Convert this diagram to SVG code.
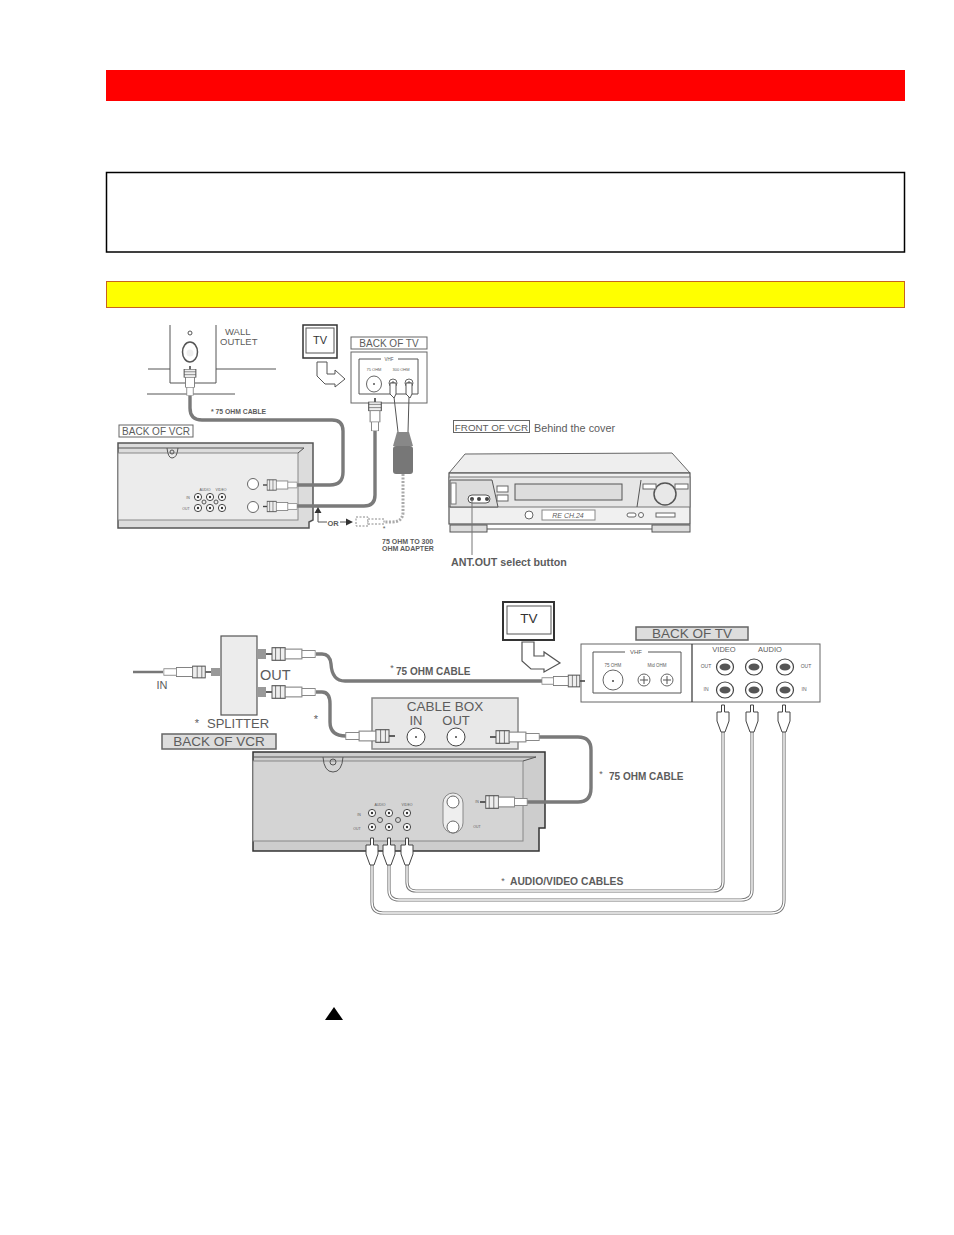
<svg xmlns="http://www.w3.org/2000/svg" width="954" height="1235" viewBox="0 0 954 1235">
<style>
text{font-family:"Liberation Sans",Arial,sans-serif;fill:#5c5c5c}
.l{stroke:#555;stroke-width:1;fill:none}
.w{stroke:#666;stroke-width:1;fill:#fff}
.g{stroke:#555;stroke-width:1;fill:#ddd}
.c{stroke:#7a7a7a;stroke-width:3.4;fill:none}
.rca{stroke:#777;stroke-width:3.2;fill:none}
.rcai{stroke:#fff;stroke-width:1.4;fill:none}
.dot{stroke:#aaa;stroke-width:3;stroke-dasharray:2 1.5;fill:none}
.b{font-weight:bold}
.m{text-anchor:middle}
</style>
<defs>
<g id="fc">
<line x1="0" y1="0" x2="5" y2="0" stroke="#444" stroke-width="1.2"/>
<rect x="5" y="-4.5" width="11" height="9" fill="#eee" stroke="#555" stroke-width=".8"/>
<line x1="8" y1="-4.5" x2="8" y2="4.5" stroke="#555" stroke-width=".6"/>
<line x1="12" y1="-4.500" x2="12" y2="4.500" stroke="#555" stroke-width=".6"/>
<rect x="16" y="-3.5" width="14" height="7" fill="#fff" stroke="#777" stroke-width=".7"/>
<rect x="30" y="-2.5" width="11" height="5" fill="#fff" stroke="#888" stroke-width=".7"/>
</g>
<g id="rp">
<path d="M-1.5 0H1.5V7H6V16L2 27H-2L-6 16V7H-1.5Z" fill="#fff" stroke="#444" stroke-width="1"/>
</g>
<g id="jack">
<ellipse rx="8.500" ry="8" fill="#fff" stroke="#444" stroke-width="1.200"/>
<ellipse rx="5.500" ry="3.500" fill="#555"/>
</g>
<g id="sj">
<circle r="3.600" fill="#fff" stroke="#444"/>
<circle r="1.200" fill="#333"/>
</g>
</defs>

<rect width="954" height="1235" fill="#fff"/>
<g id="red-bar"><rect x="106" y="70" width="799" height="31" fill="#ff0000"/></g>
<g id="note-box"><rect x="106.500" y="172.500" width="798" height="79.500" fill="#fff" stroke="#000" stroke-width="1.500"/></g>
<g id="yellow-bar"><rect x="106.500" y="281.500" width="798" height="26" fill="#ffff00" stroke="#c8641e" stroke-width="1"/></g>

<g id="wall-outlet">
<path class="l" d="M170 325V383H216V325M148 369H170M216 369H276M147 394H235"/>
<circle cx="190" cy="333" r="2" class="l"/>
<ellipse cx="190" cy="352" rx="7.500" ry="10" fill="none" stroke="#555" stroke-width="1.500"/>
<circle cx="190" cy="353" r="3.500" fill="#eee"/>
<text x="225" y="335" font-size="9.500">WALL</text>
<text x="220" y="345" font-size="9.500">OUTLET</text>
</g>

<g id="tv-icon-1">
<rect x="303" y="325" width="34" height="33" fill="#fff" stroke="#333" stroke-width="1.500"/>
<rect x="306" y="328" width="28" height="25" class="l"/>
<text x="320" y="344" class="m" font-size="11" style="fill:#333">TV</text>
<path d="M317 362H327V374H335V370L345 379L335 387V384H325L317 376Z" fill="#fff" stroke="#555"/>
</g>

<g id="back-of-tv-1">
<rect x="351" y="337" width="76" height="12" class="w"/>
<text x="389" y="347" class="m" font-size="10">BACK OF TV</text>
<rect x="351" y="352" width="76" height="51" class="w"/>
<path class="l" d="M381 359H359V394H418V359H398"/>
<text x="389" y="361" class="m" font-size="4.500">VHF</text>
<text x="374" y="371" class="m" font-size="4">75 OHM</text>
<text x="401" y="371" class="m" font-size="4">300 OHM</text>
<ellipse cx="374" cy="384" rx="7.500" ry="8" class="w"/>
<circle cx="374" cy="384" r="1" fill="#555"/>
<circle cx="393" cy="383" r="4" class="w"/>
<circle cx="409" cy="383" r="4" class="w"/>
<path class="l" d="M391 383H395M393 381V385M407 383H411M409 381V385"/>
</g>

<g id="back-of-vcr-1">
<rect x="119" y="425" width="74" height="12" class="w"/>
<text x="156" y="435" class="m" font-size="10">BACK OF VCR</text>
<path d="M118 443H313V520L309 522V528H118Z" fill="#dcdcdc" stroke="#555" stroke-width="1.500"/>
<rect x="118" y="453" width="180" height="67" fill="#ececec" stroke="#888"/>
<path class="l" d="M118 448H304L298 453M167 448Q168 458 172 458Q177 458 178 448"/>
<circle cx="172" cy="452" r="2" class="l"/>
<circle cx="253" cy="484" r="5.500" class="w"/>
<circle cx="253" cy="507" r="5.500" class="w"/>
<use href="#sj" x="198" y="497"/><use href="#sj" x="210" y="497"/><use href="#sj" x="222" y="497"/>
<use href="#sj" x="198" y="508"/><use href="#sj" x="210" y="508"/><use href="#sj" x="222" y="508"/>
<circle cx="204" cy="502" r="2" class="l"/><circle cx="216" cy="502" r="2" class="l"/>
<text x="205" y="491" class="m" font-size="3.500">AUDIO</text>
<text x="221" y="491" class="m" font-size="3.500">VIDEO</text>
<text x="188" y="498.500" class="m" font-size="3.500">IN</text>
<text x="186" y="510" class="m" font-size="3.500">OUT</text>
</g>

<g id="front-of-vcr">
<rect x="453.500" y="420.500" width="76" height="12" class="w"/>
<text x="491.500" y="430.500" class="m" font-size="9.800">FRONT OF VCR</text>
<text x="534" y="432" font-size="10.800">Behind the cover</text>
<path d="M449 473L465 454L672 453L690 473Z" fill="#eee" stroke="#666"/>
<rect x="449" y="473" width="241" height="51" fill="#f0f0f0" stroke="#555" stroke-width="1.200"/>
<rect x="449" y="477" width="241" height="30" fill="#e6e6e6" stroke="#777"/>
<path d="M450 480H492L498 507H450Z" fill="#ddd" stroke="#555"/>
<rect x="451" y="483" width="5" height="21" fill="#fff" stroke="#777"/>
<rect x="468" y="495" width="22" height="8" rx="4" fill="#fff" stroke="#555"/>
<circle cx="472" cy="499" r="2" fill="#444"/><circle cx="479" cy="499" r="2" fill="#444"/><circle cx="487" cy="499" r="2" fill="#444"/>
<rect x="497" y="486" width="11" height="6" fill="#fff" stroke="#666"/>
<rect x="497" y="495" width="11" height="6" fill="#fff" stroke="#666"/>
<rect x="515" y="484" width="107" height="16" fill="#ddd" stroke="#555"/>
<path class="l" d="M641 480L637 507"/>
<circle cx="665" cy="494" r="11" fill="#e8e8e8" stroke="#555" stroke-width="1.500"/>
<rect x="643" y="484" width="13" height="5" fill="#fff" stroke="#666"/>
<rect x="675" y="484" width="13" height="5" fill="#fff" stroke="#666"/>
<circle cx="529" cy="515" r="4" class="w"/>
<rect x="542" y="510" width="53" height="10" fill="#fff" stroke="#888"/>
<text x="568" y="518" class="m" font-size="7" font-style="italic">RE CH.24</text>
<rect x="627" y="513" width="9" height="4" rx="2" class="w"/>
<circle cx="641" cy="515" r="2.500" class="w"/>
<rect x="656" y="513" width="19" height="4" class="w"/>
<rect x="450" y="525" width="37" height="7" class="g"/>
<rect x="652" y="525" width="38" height="7" class="g"/>
<path class="l" d="M487 529H652"/>
<line x1="472" y1="499" x2="472" y2="555" stroke="#777"/>
<text x="451" y="566" class="b" font-size="10.700">ANT.OUT select button</text>
</g>

<g id="splitter">
<rect x="221" y="636" width="36" height="79" fill="#ececec" stroke="#555" stroke-width="1.200"/>
<rect x="211" y="668" width="10" height="8" fill="#999"/>
<rect x="257" y="649" width="9" height="10" fill="#999"/>
<rect x="257" y="687" width="9" height="10" fill="#999"/>
<text x="162" y="689" class="m" font-size="11">IN</text>
<text x="260" y="680" font-size="14.500">OUT</text>
<text x="197" y="727" class="m" font-size="11">*</text>
<text x="207" y="728" font-size="13">SPLITTER</text>
<text x="316" y="723" class="m" font-size="11">*</text>
</g>

<g id="cable-box">
<rect x="372" y="698" width="146" height="51" fill="#e8e8e8" stroke="#888" stroke-width="1.500"/>
<text x="445" y="711" class="m" font-size="13.500">CABLE BOX</text>
<text x="416" y="725" class="m" font-size="13">IN</text>
<text x="456" y="725" class="m" font-size="13">OUT</text>
<circle cx="416" cy="737" r="9" fill="#fff" stroke="#444"/><circle cx="416" cy="737" r="1" fill="#444"/>
<circle cx="456" cy="737" r="9" fill="#fff" stroke="#444"/><circle cx="456" cy="737" r="1" fill="#444"/>
</g>

<g id="back-of-vcr-2">
<rect x="162" y="734" width="114" height="15" fill="#ddd" stroke="#666" stroke-width="1.500"/>
<text x="219" y="746" class="m" font-size="13.500">BACK OF VCR</text>
<path d="M253 752H545V828H539V851H253Z" fill="#cdcdcd" stroke="#333" stroke-width="1.500"/>
<rect x="253" y="761" width="270" height="80" fill="#d4d4d4" stroke="#888"/>
<path class="l" d="M253 757H536L523 761M323 757Q324 772 333 772Q342 772 343 757"/>
<circle cx="333" cy="762" r="3" class="l"/>
<rect x="443" y="793" width="20" height="40" rx="10" fill="#eee" stroke="#888"/>
<circle cx="453" cy="802" r="6" class="w"/><circle cx="453" cy="827" r="6" class="w"/>
<use href="#sj" x="372" y="813"/><use href="#sj" x="389" y="813"/><use href="#sj" x="407" y="813"/>
<use href="#sj" x="372" y="827"/><use href="#sj" x="389" y="827"/><use href="#sj" x="407" y="827"/>
<circle cx="380" cy="820" r="2.500" class="l"/><circle cx="398" cy="820" r="2.500" class="l"/>
<text x="380" y="806" class="m" font-size="3.500">AUDIO</text>
<text x="407" y="806" class="m" font-size="3.500">VIDEO</text>
<text x="359" y="816" class="m" font-size="3.500">IN</text>
<text x="357" y="830" class="m" font-size="3.500">OUT</text>
<text x="477" y="803" class="m" font-size="3.500">IN</text>
<text x="477" y="828" class="m" font-size="3.500">OUT</text>
</g>

<g id="tv-icon-2">
<rect x="503" y="602" width="51" height="38" fill="#fff" stroke="#333" stroke-width="2"/>
<rect x="507" y="606" width="44" height="28" class="l"/>
<text x="529" y="623" class="m" font-size="13.500" style="fill:#333">TV</text>
<path d="M522 642H534V656H544V652L560 663L544 672V669H531L522 661Z" fill="#fff" stroke="#555" stroke-width="1.200"/>
</g>

<g id="back-of-tv-2">
<rect x="636" y="627" width="112" height="13" fill="#ddd" stroke="#666" stroke-width="1.500"/>
<text x="692" y="638" class="m" font-size="13.500">BACK OF TV</text>
<rect x="581" y="644" width="239" height="58" class="w"/>
<line x1="692" y1="644" x2="692" y2="702" stroke="#333" stroke-width="1.200"/>
<path class="l" d="M625 652H593V693H681V652H648"/>
<text x="636" y="654" class="m" font-size="6">VHF</text>
<text x="613" y="667" class="m" font-size="4.500">75 OHM</text>
<text x="657" y="667" class="m" font-size="4.500">Mid OHM</text>
<circle cx="613" cy="680" r="10" class="w"/><circle cx="613" cy="681" r="1" fill="#444"/>
<circle cx="644" cy="680" r="6" class="w"/><circle cx="667" cy="680" r="6" class="w"/>
<path class="l" d="M640 680H648M644 676V684M663 680H671M667 676V684"/>
<text x="724" y="652" class="m" font-size="7.500">VIDEO</text>
<text x="770" y="652" class="m" font-size="7.500">AUDIO</text>
<use href="#jack" x="725" y="667"/><use href="#jack" x="754" y="667"/><use href="#jack" x="785" y="667"/>
<use href="#jack" x="725" y="690"/><use href="#jack" x="754" y="690"/><use href="#jack" x="785" y="690"/>
<text x="706" y="668" class="m" font-size="5">OUT</text>
<text x="806" y="668" class="m" font-size="5">OUT</text>
<text x="706" y="691" class="m" font-size="5">IN</text>
<text x="804" y="691" class="m" font-size="5">IN</text>
</g>

<g id="connectors">
<path class="c" d="M190 395V408Q190 420 202 420H332Q343 420 343 431V472Q343 485 330 485H297"/>
<path class="c" d="M375 431V495Q375 506 364 506H297"/>
<path class="l" d="M394 397L398 432M409 397L408 432"/>
<path d="M397 432H409L413 446H393Z" fill="#888"/>
<rect x="393" y="446" width="20" height="28" rx="3" fill="#777"/>
<path class="dot" d="M403 474V512Q403 522 392 522H384"/>
<g stroke="#888" stroke-dasharray="2 1.500" fill="#fff"><rect x="356" y="517" width="12" height="9"/><rect x="368" y="519" width="16" height="5"/></g>
<path d="M390 383H396V394L394 398L390 394ZM406 383H412V394L410 398L406 394Z" fill="#fff" stroke="#555"/>
<use href="#fc" transform="translate(263 485) scale(.83 1.150)"/>
<use href="#fc" transform="translate(263 506.500) scale(.83 1.150)"/>
<use href="#fc" transform="translate(190 366) rotate(90) scale(.72 1.300)"/>
<use href="#fc" transform="translate(375 398) rotate(90) scale(.8 1.400)"/>
<path class="l" d="M318 511V522H327M340 522H346"/>
<path d="M318 507L314.500 513H321.500ZM353 522L346 518.500V525.500Z" fill="#333"/>

<path stroke="#777" stroke-width="2.500" fill="none" d="M133 672H163"/>
<use href="#fc" transform="translate(211 672) rotate(180) scale(1.150 1.300)"/>
<path class="c" d="M316 654H322Q330 654 331 664Q332 681 345 681H542"/>
<use href="#fc" transform="translate(266 654) scale(1.200 1.400)"/>
<use href="#fc" transform="translate(585 681) rotate(180) scale(1.050 1.300)"/>
<path class="c" d="M316 692H322Q330 692 330 704V722Q330 736 346 736"/>
<use href="#fc" transform="translate(266 692) scale(1.200 1.400)"/>
<use href="#fc" transform="translate(395 736) rotate(180) scale(1.200 1.400)"/>
<path class="c" d="M538 737H578Q591 737 591 750V788Q591 802 578 802H525"/>
<use href="#fc" transform="translate(490 737) scale(1.200 1.400)"/>
<use href="#fc" transform="translate(480 802) scale(1.150 1.400)"/>

<path class="rca" d="M372 860V902Q372 913 383 913H771Q784 913 784 900V730"/>
<path class="rcai" d="M372 860V902Q372 913 383 913H771Q784 913 784 900V730"/>
<path class="rca" d="M389 860V890Q389 900 399 900H741Q752 900 752 890V730"/>
<path class="rcai" d="M389 860V890Q389 900 399 900H741Q752 900 752 890V730"/>
<path class="rca" d="M407 860V882Q407 891 416 891H713Q723 891 723 882V730"/>
<path class="rcai" d="M407 860V882Q407 891 416 891H713Q723 891 723 882V730"/>
<use href="#rp" x="372" y="838"/><use href="#rp" x="389" y="838"/><use href="#rp" x="407" y="838"/>
<use href="#rp" x="723" y="705"/><use href="#rp" x="752" y="705"/><use href="#rp" x="784" y="705"/>
</g>

<g id="labels">
<text x="211" y="414" class="b" font-size="6.800">* 75 OHM CABLE</text>
<text x="333" y="526" font-size="7.500" class="m b">OR</text>
<text x="384" y="531" class="m" font-size="7">*</text>
<text x="382" y="544" class="b" font-size="7">75 OHM TO 300</text>
<text x="382" y="551" class="b" font-size="7">OHM ADAPTER</text>
<text x="392" y="671" class="m" font-size="9">*</text>
<text x="396" y="675" class="b" font-size="10">75 OHM CABLE</text>
<text x="601" y="777" class="m" font-size="9">*</text>
<text x="609" y="780" class="b" font-size="10">75 OHM CABLE</text>
<text x="503" y="884" class="m" font-size="9">*</text>
<text x="510" y="885" class="b" font-size="10.300">AUDIO/VIDEO CABLES</text>
</g>

<g id="triangle"><polygon points="325,1020 343,1020 334,1007" fill="#000"/></g>
</svg>
